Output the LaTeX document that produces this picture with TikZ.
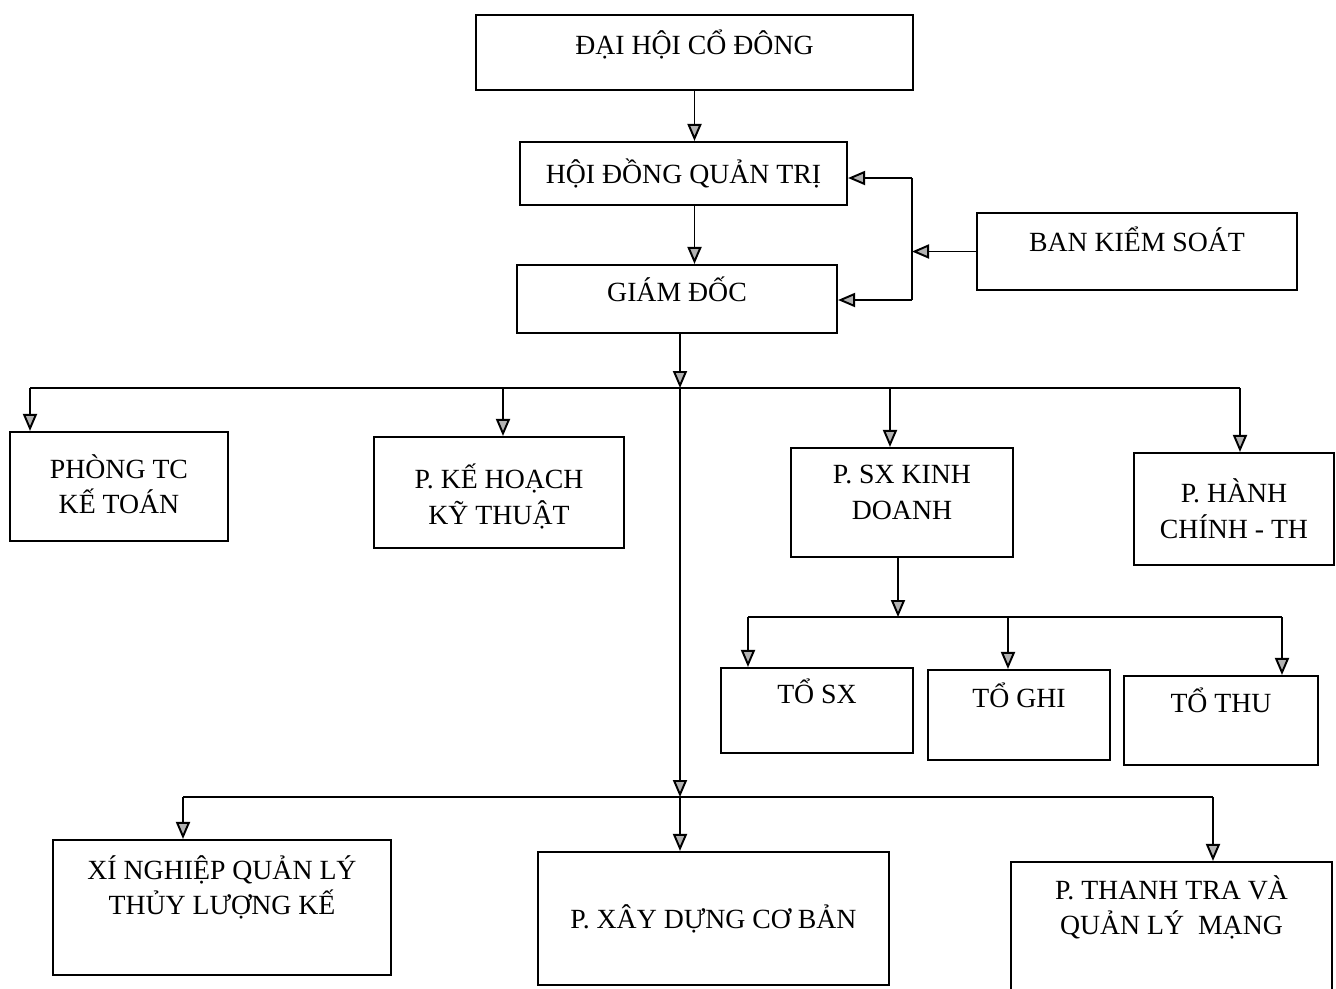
\documentclass[tikz,border=0pt]{standalone}
\usepackage{fontspec}
\setmainfont{Liberation Serif}
\usetikzlibrary{arrows.meta}
\newcommand{\lift}[2]{\raisebox{#1}[\height][\depth]{\begin{tabular}{@{}c@{}}#2\end{tabular}}}

\begin{document}
\begin{tikzpicture}[
    box/.style={
        draw=black,
        line width=1.2pt,
        fill=white,
        align=center,
        inner sep=2pt,
        font=\fontsize{15.8}{20}\selectfont
    },
    arr/.style={
        -{Triangle[length=3.4mm,width=2.8mm,fill=gray!60]},
        line width=1.1pt
    },
    bus/.style={
        line width=1.1pt
    }
]
\useasboundingbox (0,0) rectangle (26.72,-19.76);

% ---------------- Top ----------------
\node[box, minimum width=8.74cm, minimum height=1.5cm] (dhcd) at (13.89,-1.05) {\lift{0.1cm}{ĐẠI HỘI CỔ ĐÔNG}};
\node[box, minimum width=6.54cm, minimum height=1.26cm] (hdqt) at (13.67,-3.47) {HỘI ĐỒNG QUẢN TRỊ};
\node[box, minimum width=6.4cm, minimum height=1.36cm] (gd) at (13.54,-5.98) {\lift{0.1cm}{GIÁM ĐỐC}};
\node[box, minimum width=6.4cm, minimum height=1.54cm] (bks) at (22.74,-5.03) {\lift{0.14cm}{BAN KIỂM SOÁT}};

\draw[arr] (dhcd.south) -- (dhcd.south |- hdqt.north);
\draw[arr] (dhcd.south |- hdqt.south) -- (dhcd.south |- gd.north);

\coordinate (ktop) at (18.24,-3.56);
\coordinate (kbot) at (18.24,-6.0);
\draw[bus] (ktop) -- (kbot);
\draw[arr] (bks.west) -- (bks.west -| ktop);
\draw[arr] (ktop) -- (ktop -| hdqt.east);
\draw[arr] (kbot) -- (kbot -| gd.east);

% ---------------- Departments ----------------
\node[box, minimum width=4.36cm, minimum height=2.18cm] (ptc) at (2.38,-9.73) {\lift{-0.05cm}{PHÒNG TC\\KẾ TOÁN}};
\node[box, minimum width=5.0cm, minimum height=2.22cm] (pkh) at (9.98,-9.85) {\lift{-0.14cm}{P. KẾ HOẠCH\\KỸ THUẬT}};
\node[box, minimum width=4.44cm, minimum height=2.18cm] (psx) at (18.04,-10.05) {\lift{0.16cm}{P. SX KINH\\DOANH}};
\node[box, minimum width=4.0cm, minimum height=2.24cm] (phc) at (24.68,-10.18) {\lift{-0.09cm}{P. HÀNH\\CHÍNH - TH}};

\coordinate (top) at (13.6,-7.76);
\coordinate (b1) at (0.6,-7.76);
\coordinate (b2) at (10.06,-7.76);
\coordinate (b3) at (17.8,-7.76);
\coordinate (b4) at (24.8,-7.76);
\draw[arr] (gd.south -| top) -- (top);
\draw[bus] (b1) -- (b4);
\draw[arr] (b1) -- (b1 |- ptc.north);
\draw[arr] (b2) -- (b2 |- pkh.north);
\draw[arr] (b3) -- (b3 |- psx.north);
\draw[arr] (b4) -- (b4 |- phc.north);

% ---------------- Teams ----------------
\node[box, minimum width=3.84cm, minimum height=1.7cm] (tosx) at (16.34,-14.21) {\lift{0.29cm}{TỔ SX}};
\node[box, minimum width=3.64cm, minimum height=1.8cm] (toghi) at (20.38,-14.3) {\lift{0.3cm}{TỔ GHI}};
\node[box, minimum width=3.88cm, minimum height=1.78cm] (tothu) at (24.42,-14.41) {\lift{0.31cm}{TỔ THU}};

\coordinate (sub) at (17.96,-12.34);
\coordinate (s1) at (14.96,-12.34);
\coordinate (s2) at (20.16,-12.34);
\coordinate (s3) at (25.64,-12.34);
\draw[arr] (psx.south -| sub) -- (sub);
\draw[bus] (s1) -- (s3);
\draw[arr] (s1) -- (s1 |- tosx.north);
\draw[arr] (s2) -- (s2 |- toghi.north);
\draw[arr] (s3) -- (s3 |- tothu.north);

% ---------------- Bottom ----------------
\node[box, minimum width=6.76cm, minimum height=2.7cm] (xn) at (4.44,-18.15) {\lift{0.35cm}{XÍ NGHIỆP QUẢN LÝ\\THỦY LƯỢNG KẾ}};
\node[box, minimum width=7.02cm, minimum height=2.66cm] (xdcb) at (14.27,-18.37) {P. XÂY DỰNG CƠ BẢN};
\node[box, minimum width=6.42cm, minimum height=2.76cm] (ttra) at (23.43,-18.62) {\lift{0.42cm}{P. THANH TRA VÀ\\QUẢN LÝ\ \ MẠNG}};

\coordinate (bot) at (13.6,-15.94);
\coordinate (l1) at (3.66,-15.94);
\coordinate (l3) at (24.26,-15.94);
\draw[arr] (top) -- (bot);
\draw[bus] (l1) -- (l3);
\draw[arr] (l1) -- (l1 |- xn.north);
\draw[arr] (bot) -- (bot |- xdcb.north);
\draw[arr] (l3) -- (l3 |- ttra.north);

\end{tikzpicture}
\end{document}
